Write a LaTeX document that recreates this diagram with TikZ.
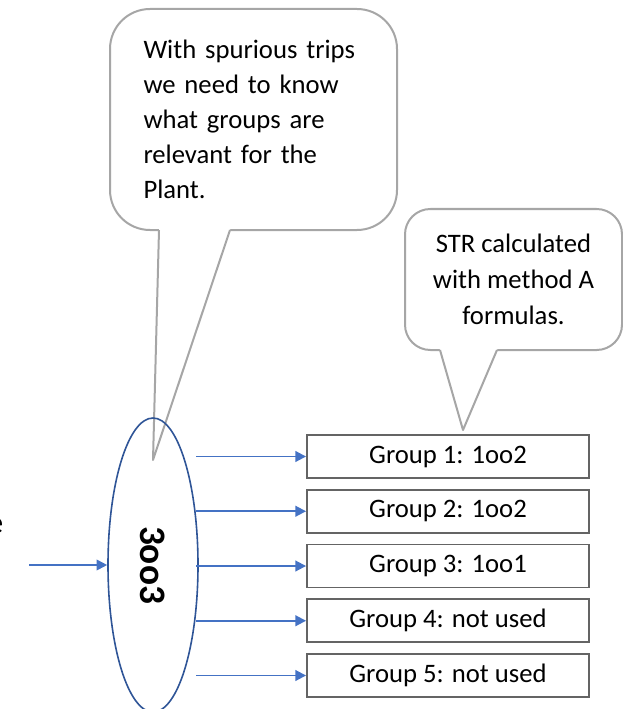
\documentclass[tikz,border=0pt]{standalone}
\usepackage{fontspec}
\setmainfont{Carlito}
\usetikzlibrary{arrows.meta,shapes.geometric}
\definecolor{calloutgray}{RGB}{166,166,166}
\definecolor{boxgray}{RGB}{100,100,100}
\definecolor{arrowblue}{RGB}{68,114,196}
\definecolor{ellblue}{RGB}{47,85,151}

\begin{document}
\begin{tikzpicture}[x=0.75pt, y=-0.75pt,
		bubble/.style={draw=calloutgray, line width=1.5pt, fill=white, rounded corners=30pt, font=\fontsize{20}{26.25}\selectfont},
		group/.style={draw=boxgray, line width=1.4pt, minimum width=211.5pt, minimum height=32.25pt, inner sep=0pt, font=\fontsize{20}{24}\selectfont},
		feed/.style={-{Triangle[length=8pt,width=8pt]}, arrowblue, line width=1.4pt}]
			\useasboundingbox (0,0) rectangle (623,709);
			% callouts
			\node (why) at (253.5,119.5) [bubble, minimum width=215.25pt, minimum height=165.75pt, text width=165pt, inner xsep=25.125pt, align=left] {With spurious trips\\ we need to know\\ what groups are\\ relevant for the\\ Plant.};
			\coordinate (whytip) at (153,460);
			\fill[white] (159.1,226) -- (whytip) -- (231.3,226) -- cycle;
			\draw[calloutgray, line width=1.5pt, line join=round] (159,230) -- (whytip) -- (230,230);
			\node (how) at (513.5,279.5) [bubble, rounded corners=19pt, minimum width=162.75pt, minimum height=105.75pt, align=center, font=\fontsize{20}{27}\selectfont] {STR calculated\\ with method A\\ formulas.};
			\coordinate (howtip) at (463,430);
			\fill[white] (438.9,346) -- (howtip) -- (498.7,346) -- cycle;
			\draw[calloutgray, line width=1.5pt, line join=round] (440,350) -- (howtip) -- (497,350);
			% voter
			\node (vote) at (153,565) [ellipse, draw=ellblue, line width=1.2pt, minimum width=67.5pt, minimum height=220.5pt, inner sep=0pt] {\rotatebox{-90}{\fontsize{28}{30}\selectfont\bfseries 3oo3}};
			\node (cut) at (3.5,533) [anchor=base east, inner sep=0pt, font=\fontsize{24}{28}\selectfont] {e};
			\coordinate (in) at (29,565);
			\draw[feed] (in) -- (vote.west);
			% groups
			\foreach \i/\txt in {1/1oo2, 2/1oo2, 3/1oo1, 4/not used, 5/not used} {
				\node (g\i) at (448,{456.5+54.75*(\i-1)}) [group] {Group \i: \txt};
				\coordinate (o\i) at (196,{456.5+54.75*(\i-1)});
				\draw[feed] (o\i) -- (g\i);
			}
			\end{tikzpicture}
\end{document}
